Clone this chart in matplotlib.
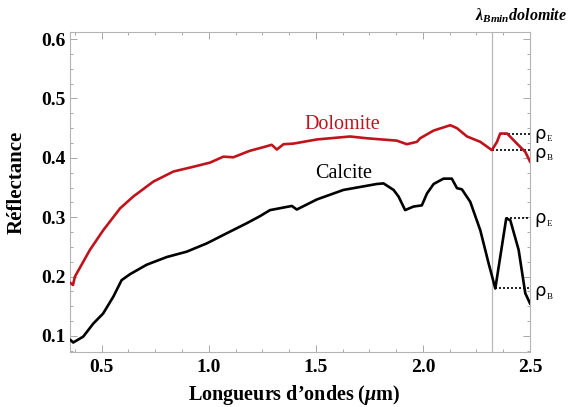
import matplotlib
matplotlib.use("Agg")
import matplotlib.pyplot as plt
from matplotlib.ticker import MultipleLocator

plt.rcParams["font.family"] = ["Liberation Serif", "DejaVu Serif"]
plt.rcParams["mathtext.fontset"] = "custom"
plt.rcParams["mathtext.rm"] = "Liberation Serif:bold"
plt.rcParams["mathtext.it"] = "Liberation Serif:italic:bold"
plt.rcParams["mathtext.bf"] = "Liberation Serif:bold"

# Spectra (wavelength in micrometres, reflectance)
dolomite_wl = [0.355, 0.366, 0.375, 0.445, 0.507, 0.586, 0.648, 0.741, 0.835, 0.928,
               1.006, 1.068, 1.115, 1.178, 1.193, 1.255, 1.294, 1.318, 1.349, 1.395,
               1.505, 1.660, 1.738, 1.878, 1.925, 1.972, 1.987, 2.050, 2.128, 2.159,
               2.206, 2.268, 2.322, 2.346, 2.361, 2.393, 2.439, 2.478, 2.500]
dolomite_refl = [0.189, 0.186, 0.200, 0.245, 0.278, 0.315, 0.335, 0.360, 0.377, 0.385,
                 0.392, 0.402, 0.401, 0.410, 0.412, 0.418, 0.422, 0.414, 0.423, 0.424,
                 0.431, 0.436, 0.433, 0.429, 0.423, 0.427, 0.433, 0.446, 0.455, 0.450,
                 0.436, 0.427, 0.413, 0.427, 0.441, 0.441, 0.424, 0.410, 0.394]

calcite_wl = [0.355, 0.367, 0.414, 0.461, 0.507, 0.554, 0.593, 0.632, 0.710, 0.804,
              0.897, 0.991, 1.084, 1.178, 1.240, 1.286, 1.388, 1.411, 1.505, 1.629,
              1.785, 1.816, 1.863, 1.886, 1.917, 1.956, 1.995, 2.019, 2.050, 2.096,
              2.135, 2.159, 2.182, 2.221, 2.268, 2.307, 2.338, 2.361, 2.389, 2.408,
              2.447, 2.478, 2.500]
calcite_refl = [0.093, 0.089, 0.099, 0.121, 0.138, 0.166, 0.194, 0.204, 0.220, 0.233,
                0.242, 0.256, 0.273, 0.290, 0.302, 0.312, 0.319, 0.313, 0.330, 0.346,
                0.356, 0.357, 0.346, 0.335, 0.312, 0.318, 0.320, 0.340, 0.356, 0.365,
                0.365, 0.349, 0.347, 0.326, 0.278, 0.222, 0.180, 0.233, 0.298, 0.295,
                0.245, 0.172, 0.155]

# band minimum of dolomite and shoulder/bottom reflectances (start wavelength, level)
lambda_bmin = 2.322
dol_rho_e = (2.361, 0.441)
dol_rho_b = (2.322, 0.413)
cal_rho_e = (2.389, 0.298)
cal_rho_b = (2.338, 0.180)

fig = plt.figure(figsize=(5.7, 4.07), dpi=100)
ax = fig.add_axes([0.1228, 0.1351, 0.8070, 0.7863])

ax.plot(dolomite_wl, dolomite_refl, color="#c0141c", lw=1.9, zorder=3)
ax.plot(calcite_wl, calcite_refl, color="black", lw=1.9, zorder=3)

ax.axvline(lambda_bmin, color="#b8b8b8", lw=0.9, zorder=1)

x_end = 2.5
for x0, y0 in (dol_rho_e, dol_rho_b, cal_rho_e, cal_rho_b):
    ax.plot([x0, x_end], [y0, y0], color="black", lw=1.2, ls=(0, (1.2, 1.2)),
            clip_on=False, zorder=2)

# rho labels just outside the right frame
for (x0, y0), sub in ((dol_rho_e, "E"), (dol_rho_b, "B"), (cal_rho_e, "E"), (cal_rho_b, "B")):
    dy = -0.004 if sub == "B" else 0.0
    ax.text(2.520, y0 + dy, "ρ", family="DejaVu Sans", fontsize=13, ha="left",
            va="center", clip_on=False)
    ax.text(2.578, y0 + dy - 0.010, sub, fontsize=6.5, ha="left", va="center",
            clip_on=False)

ax.text(1.625, 0.457, "Dolomite", color="#c0141c", fontsize=14.5, ha="center",
        va="center")
ax.text(1.632, 0.374, "Calcite", color="black", fontsize=14.5, ha="center",
        va="center")

fig.text(567 / 570, 1 - 16 / 407, r"$\lambda_{Bmin}dolomite$", fontsize=11.5,
         ha="right", va="center")

ax.set_xlim(0.352, 2.5)
ax.set_ylim(0.073, 0.612)

ax.xaxis.set_major_locator(MultipleLocator(0.5))
ax.xaxis.set_minor_locator(MultipleLocator(0.125))
ax.yaxis.set_major_locator(MultipleLocator(0.1))
ax.yaxis.set_minor_locator(MultipleLocator(0.025))
ax.xaxis.set_major_formatter(lambda v, p: f"{v:.1f}")
ax.yaxis.set_major_formatter(lambda v, p: f"{v:.1f}")

ax.tick_params(which="both", direction="in", top=True, right=True, color="#a8a8a8",
               width=0.7)
ax.tick_params(which="major", length=5)
ax.tick_params(which="minor", length=2.5)
ax.tick_params(axis="x", which="major", pad=5, labelsize=14)
ax.tick_params(axis="y", which="major", pad=3, labelsize=14)
for lab in ax.get_xticklabels() + ax.get_yticklabels():
    lab.set_fontweight("bold")

for sp in ax.spines.values():
    sp.set_color("#b4b4b4")
    sp.set_linewidth(0.8)

ax.set_xlabel(r"Longueurs d’ondes ($\mu$m)", fontsize=14.5, fontweight="bold")
ax.set_ylabel("Réflectance", fontsize=15, fontweight="bold")
ax.xaxis.set_label_coords(0.487, -0.097)
ax.yaxis.set_label_coords(-0.094, 0.53)

fig.savefig("out.png", dpi=100)
